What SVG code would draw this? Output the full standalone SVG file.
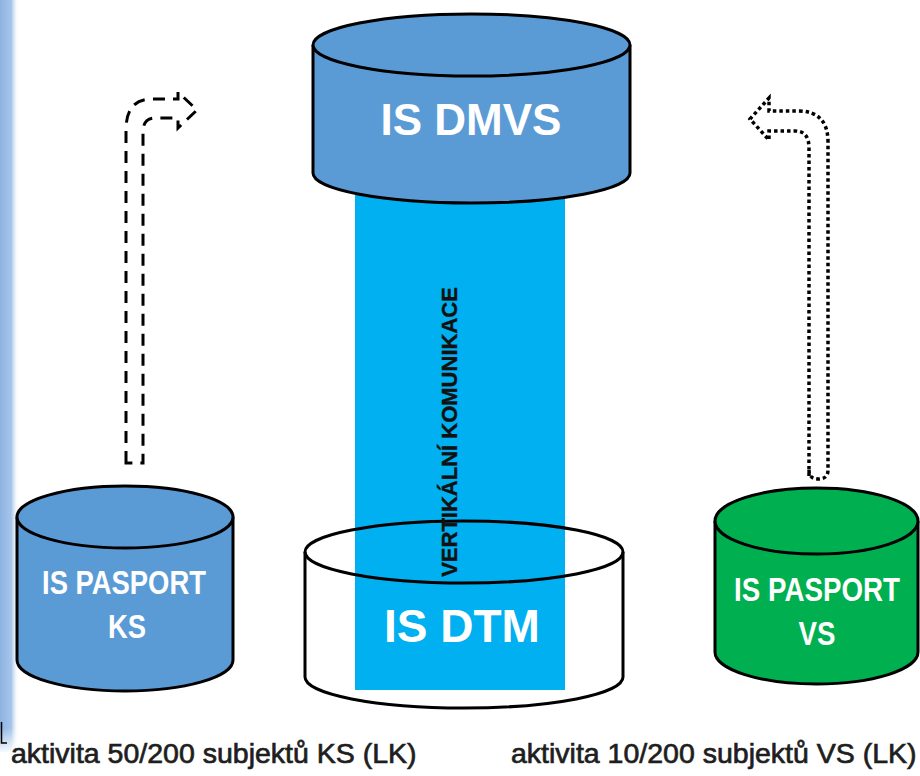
<svg xmlns="http://www.w3.org/2000/svg" width="920" height="776" viewBox="0 0 920 776">
  <defs>
    <linearGradient id="strip" x1="0" y1="0" x2="1" y2="0">
      <stop offset="0" stop-color="#8DB3E2"/>
      <stop offset="0.6" stop-color="#A7C5EB"/>
      <stop offset="1" stop-color="#FFFFFF" stop-opacity="0"/>
    </linearGradient>
    <linearGradient id="stripEnd" x1="0" y1="0" x2="0" y2="1">
      <stop offset="0" stop-color="#FFFFFF" stop-opacity="0"/>
      <stop offset="1" stop-color="#FFFFFF" stop-opacity="1"/>
    </linearGradient>
  </defs>
  <style>
    .cyl { stroke: #000; stroke-width: 3; stroke-linejoin: round; }
    .blue { fill: #5B9BD5; }
    .green { fill: #00B050; }
    .white { fill: #FFFFFF; }
    .lbl { font-family: "Liberation Sans", Arial, sans-serif; font-weight: bold; fill: #FFFFFF; text-anchor: middle; }
    .cap { font-family: "Liberation Sans", Arial, sans-serif; font-size: 28.5px; fill: #1E1E1E; stroke: #1E1E1E; stroke-width: 0.7; }
    .dash { fill: none; stroke: #000; stroke-width: 3; stroke-dasharray: 12 8; }
    .dot { fill: none; stroke: #000; stroke-width: 3.5; stroke-dasharray: 3.5 3; }
  </style>
  <rect width="920" height="776" fill="#FFFFFF"/>

  <!-- left decorative strip -->
  <rect x="0" y="0" width="19" height="752" fill="url(#strip)"/>
  <rect x="0" y="728" width="19" height="26" fill="url(#stripEnd)"/>
  <path d="M1.5,722 L1.5,743 L7,743" fill="none" stroke="#000" stroke-width="1.5"/>

  <!-- IS DTM (behind the communication bar) -->
  <g id="is-dtm">
    <path class="cyl white" d="M305,552 L305,677 A159,31 0 0 0 623,677 L623,552"/>
    <rect id="vertikalni-komunikace-bar" x="355" y="190" width="210" height="500" fill="#00B0F0"/>
    <ellipse class="cyl" cx="464" cy="552" rx="159" ry="31" fill="none"/>
    <text class="lbl" x="462" y="642" font-size="46">IS DTM</text>
  </g>

  <!-- vertical communication label -->
  <g id="vertikalni-komunikace">
    <text transform="translate(457,432) rotate(-90)" font-family="'Liberation Sans', Arial, sans-serif" font-weight="bold" font-size="22" fill="#111111" stroke="#111111" stroke-width="0.4" text-anchor="middle">VERTIKÁLNÍ KOMUNIKACE</text>
  </g>

  <!-- IS DMVS -->
  <g id="is-dmvs">
    <path class="cyl blue" d="M313,45 L313,173 A158.5,30 0 0 0 630,173 L630,45"/>
    <ellipse class="cyl blue" cx="471.5" cy="45" rx="158.5" ry="31"/>
    <text class="lbl" x="471" y="135" font-size="44">IS DMVS</text>
  </g>

  <!-- IS PASPORT KS -->
  <g id="is-pasport-ks">
    <path class="cyl blue" d="M17,517 L17,660 A108,31 0 0 0 233,660 L233,517"/>
    <ellipse class="cyl blue" cx="125" cy="517" rx="108" ry="31"/>
    <text class="lbl" font-size="33" transform="translate(124,594) scale(0.83,1)">IS PASPORT</text>
    <text class="lbl" font-size="33" transform="translate(127,638) scale(0.83,1)">KS</text>
  </g>

  <!-- IS PASPORT VS -->
  <g id="is-pasport-vs">
    <path class="cyl green" d="M715,521 L715,652 A101.5,32 0 0 0 918,652 L918,521"/>
    <ellipse class="cyl green" cx="816.5" cy="521" rx="101.5" ry="33"/>
    <text class="lbl" font-size="33" transform="translate(817,601) scale(0.84,1)">IS PASPORT</text>
    <text class="lbl" font-size="33" transform="translate(817,645) scale(0.84,1)">VS</text>
  </g>

  <!-- connectors -->
  <g id="connectors">
    <path class="dash" d="M126,463 L126,130 Q126,99 152,99 L178,99 L178,92 L197,110 L178,128 L178,118 L155,118 Q143,118 143,132 L143,463 Z"/>
    <path class="dot" d="M809,476 L809,148 Q809,131 795,131 L769,131 L769,140 L750,119 L769,98 L769,111 L798,111 Q828,111 828,142 L828,470 Q828,479 818.5,479 Q809,479 809,470 Z"/>
  </g>

  <!-- captions -->
  <g id="captions">
    <text class="cap" x="11" y="763">aktivita 50/200 subjektů KS (LK)</text>
    <text class="cap" x="511" y="763">aktivita 10/200 subjektů VS (LK)</text>
  </g>
</svg>
